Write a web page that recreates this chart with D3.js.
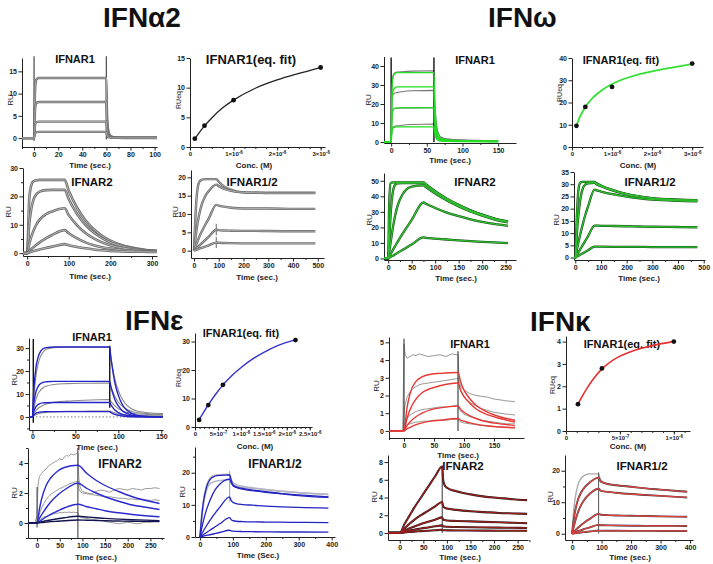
<!DOCTYPE html>
<html><head><meta charset="utf-8">
<script src="https://cdn.jsdelivr.net/npm/d3@7"></script>
<style>
body{margin:0;background:#fff;}
svg{display:block;font-family:"Liberation Sans",Arial,sans-serif;}
.ax .domain,.ax line{stroke:#222;stroke-width:1;}
.ax text{font-size:7px;font-weight:bold;fill:#222;font-family:"Liberation Sans",Arial,sans-serif;}
</style></head><body><script>
// ================= DATA =================
// ---- IFNα2 ----
const a2R1Time=[-10,0,0.5,1,2,4,60,60.5,61,62,64,68,75,102];
const a2R1Curves=[
 [0,0,7,11.5,13.2,13.5,13.5,6,3,1.2,0.4,0.15,0.1,0.1],
 [0,0,4.2,6.9,7.9,8.1,8.1,3.6,1.8,0.7,0.25,0.1,0.08,0.08],
 [0,0,1.9,3.1,3.6,3.7,3.7,1.7,0.8,0.35,0.15,0.08,0.05,0.05],
 [0,0,0.7,1.2,1.35,1.4,1.4,0.7,0.35,0.15,0.07,0.05,0.03,0.03]];
const a2R1Spikes=[[0,-0.6,18.4],[60,-0.3,18.4]];
const a2EqConc=[1.11e-7,3.33e-7,1e-6,3e-6];
const a2EqRU=[1.4,3.6,7.9,13.4];
const a2FitConc=[1.11e-7,2e-7,3.33e-7,5e-7,7.5e-7,1e-6,1.5e-6,2e-6,2.5e-6,3e-6];
const a2FitRU=[1.35,2.3,3.55,4.9,6.6,7.9,9.9,11.3,12.4,13.4];
const a2R2Time=[-10,0,5,10,15,20,30,45,60,90,100,120,140,160,180,200,230,260,290,312];
const a2R2Curves=[
 [0,0,19,24,25.3,25.6,25.8,25.8,25.8,25.8,22.0,16.0,11.6,8.4,6.1,4.4,2.7,1.7,1.05,0.8],
 [0,0,10.1,15.6,18.8,20.3,21.7,22.2,22.3,22.3,19.0,13.8,10.0,7.3,5.3,3.8,2.4,1.5,0.95,0.75],
 [0,0,3.2,5.8,7.8,9.5,11.8,13.7,14.7,15.8,13.4,9.8,7.1,5.2,3.8,2.8,1.8,1.2,0.8,0.65],
 [0,0,0.8,1.5,2.1,2.7,3.8,5.2,6.4,8.1,7.0,5.2,3.8,2.8,2.1,1.6,1.1,0.8,0.6,0.5],
 [0,0,0.25,0.5,0.7,0.9,1.3,1.8,2.3,3.2,2.8,2.2,1.7,1.3,1.0,0.8,0.6,0.5,0.45,0.4]];
const a2R12Time=[0,10,20,30,45,60,90,100,120,150,200,250,300,400,490];
const a2R12Curves=[
 [0,14,18.5,19.3,19.5,19.5,19.5,18.8,17.6,16.6,15.9,15.8,15.8,15.8,15.8],
 [0,5.5,9.5,12.3,14.8,16.3,18.0,17.6,16.9,16.3,15.9,15.8,15.7,15.7,15.7],
 [0,1.8,3.5,5.0,7.0,8.8,12.5,12.3,12.0,11.7,11.5,11.5,11.5,11.4,11.4],
 [0,0.65,1.3,1.95,2.9,3.8,5.7,5.6,5.5,5.45,5.4,5.4,5.35,5.3,5.3],
 [0,0.25,0.5,0.75,1.1,1.45,2.2,2.15,2.1,2.05,2.0,2.0,2.0,2.0,2.0]];
const a2R12Spikes=[[90,4.2,7.3],[90,0.7,3.7]];
// ---- IFNω ----
const wR1Time=[-10,0,1,2,4,8,15,30,60,61,62,64,67,70,80,100,130,150];
const wR1Fit=[
 [0,0,25,32,35.5,36.5,36.5,36.5,36.5,22,14,6.5,3,1.8,1.1,0.7,0.5,0.4],
 [0,0,20,25.5,28,29,29,29,29,17,11,5,2.4,1.5,0.9,0.6,0.4,0.35],
 [0,0,12,16,17.5,18,18,18,18,11,7,3.2,1.6,1.0,0.6,0.4,0.3,0.25],
 [0,0,5,7,7.8,8,8,8,8,5,3.2,1.5,0.8,0.5,0.35,0.25,0.2,0.15]];
const wR1Data=[
 [0,0,28,34,36,36.8,37,37.3,37.5,24,16,8,4,2.5,1.6,1.1,0.8,0.6],
 [0,0,21,24.5,25.5,26,26.5,27,27.2,17,11,5.5,3,2,1.4,1,0.7,0.6],
 [0,0,13,16.5,17.5,17.8,18,18,18.2,11,7,3.5,2,1.4,1,0.7,0.5,0.4],
 [0,0,6,7.5,8.2,8.5,8.8,9.2,9.5,6,4,2,1.2,0.9,0.6,0.45,0.35,0.3]];
const wR1Spikes=[[0,0,44.5],[60,0,44.5]];
const wEqConc=[1.11e-7,3.33e-7,1e-6,3e-6];
const wEqRU=[9.5,18,27,37.5];
const wFitConc=[1.11e-7,2e-7,3.33e-7,5e-7,7.5e-7,1e-6,1.5e-6,2e-6,2.5e-6,3e-6];
const wFitRU=[9.7,13.7,18.0,21.8,25.6,28.3,31.8,34.0,35.7,37.2];
const wR2Time=[-9,0,2,5,10,15,20,30,40,50,75,80,100,125,150,175,200,225,255];
const wR2Curves=[
 [0,0,35,48.5,49,49,49,49,49,49,49,47.8,43.3,38.5,34.5,31.0,28.2,25.8,23.8],
 [0,0,10,28,43,47.5,48.3,48.5,48.5,48.5,48.5,47.3,42.8,38.1,34.2,30.8,28.0,25.6,23.5],
 [0,0,4,10,20,28,34,41,44.8,46.3,47,46,41.8,37.3,33.5,30.2,27.5,25.2,23.2],
 [0,0,1,2.7,5.5,8.1,10.7,15.6,20.3,24.8,36,35.2,32.5,29.5,27.2,25.2,23.5,22.2,21],
 [0,0,0.4,0.9,1.8,2.7,3.6,5.4,7.2,9.0,13.5,13.3,12.8,12.2,11.6,11.1,10.7,10.3,9.9]];
const wR12Time=[-5,0,5,10,15,20,30,40,50,75,80,100,150,200,250,300,400,475];
const wR12Curves=[
 [0,0,14,25,29.5,30.7,31,31,31,31,30.6,29.5,27.5,26.0,25.0,24.3,23.7,23.5],
 [0,0,8,15,20,24,28.5,30,30.4,30.6,30.2,29.2,27.3,25.9,24.9,24.2,23.6,23.4],
 [0,0,2.6,5.1,7.5,9.8,14,17.8,21,27.8,27.6,27.0,25.8,24.9,24.2,23.7,23.2,23.0],
 [0,0,0.9,1.8,2.6,3.5,5.3,7,8.8,13.1,13.1,13.0,12.9,12.8,12.7,12.6,12.5,12.4],
 [0,0,0.3,0.6,0.9,1.2,1.8,2.4,3.0,4.5,4.5,4.45,4.4,4.4,4.35,4.3,4.3,4.3]];
// ---- IFNε ----
const eR1Time=[-4,0,1,2,4,6,8,12,16,25,40,60,90,91,93,96,100,105,110,120,135,152];
const eR1Fit=[
 [0,0,7.9,13.7,21.3,25.2,27.5,29.6,30.2,30.5,30.5,30.5,30.5,27,21.5,14.8,9.4,5.2,2.9,0.9,0.2,0.1],
 [0,0,4,7,10.8,12.8,14,15,15.3,15.5,15.5,15.5,15.5,13.7,10.9,7.5,4.8,2.6,1.5,0.45,0.1,0.05],
 [0,0,1.6,2.8,4.4,5.2,5.7,6.1,6.2,6.3,6.3,6.3,6.3,5.6,4.4,3.0,1.9,1.1,0.6,0.2,0.05,0],
 [0,0,0.6,1,1.6,1.9,2.1,2.2,2.3,2.3,2.3,2.3,2.3,2.0,1.6,1.1,0.7,0.4,0.2,0.07,0,0]];
const eR1Data=[
 [0,0,5,10,17.5,22,25,28,29.5,30.2,30.5,30.5,30.4,27,22,16.5,11.5,7.5,5,2.8,1.8,1.5],
 [0,0,2,4,7.5,9.7,11,12.6,13.4,14.1,14.5,14.7,14.8,13.5,11.5,9,6.5,4.5,3.2,2.0,1.4,1.2],
 [0,0,0.8,1.5,2.7,3.5,4.1,5,5.6,6.4,6.9,7.3,7.6,7,6,4.8,3.6,2.6,2.0,1.4,1.1,1.0],
 [0,0,0.3,0.6,1.0,1.3,1.5,1.8,2.0,2.2,2.4,2.5,2.6,2.4,2.1,1.7,1.3,1.0,0.8,0.6,0.5,0.45]];
const eR1Spikes=[[1,-2.5,34],[90,4,31]];
const eEqConc=[0.09e-6,0.29e-6,0.61e-6,2.19e-6];
const eEqRU=[2.5,7.7,14.8,30.5];
const eFitConc=[0.09e-6,0.2e-6,0.29e-6,0.45e-6,0.61e-6,0.8e-6,1.0e-6,1.25e-6,1.5e-6,1.8e-6,2.19e-6];
const eFitRU=[2.6,5.5,7.8,11.5,14.8,18.0,20.8,23.8,26.2,28.6,30.6];
const eR2Time=[-20,0,5,10,20,30,45,60,90,110,130,150,180,210,240,270];
const eR2Fit=[
 [0,0,0.9,1.6,2.5,3.0,3.45,3.7,3.85,3.3,2.85,2.5,2.1,1.75,1.5,1.3],
 [0,0,0.3,0.55,1.0,1.4,1.85,2.2,2.65,2.3,2.0,1.75,1.45,1.2,1.05,0.9],
 [0,0,0.1,0.2,0.4,0.58,0.8,1.0,1.25,1.08,0.95,0.82,0.68,0.57,0.48,0.42],
 [0,0,0.04,0.08,0.15,0.2,0.28,0.35,0.45,0.4,0.35,0.31,0.26,0.22,0.19,0.16],
 [0,0,0.02,0.03,0.06,0.09,0.12,0.15,0.2,0.18,0.17,0.15,0.13,0.12,0.11,0.1]];
const eR2DataTime=[-20,-5,0,2,5,10,15,20,25,30,35,40,45,50,55,60,65,70,75,80,85,90,92,95,100,110,120,130,140,150,160,170,180,190,200,210,220,230,240,250,260,270];
const eR2Data=[
 [0,0,0.5,2.5,3.1,3.3,3.5,3.6,3.8,3.9,4.0,4.1,4.15,4.3,4.2,4.4,4.5,4.45,4.6,4.55,4.6,4.7,3.0,2.4,2.1,2.0,1.95,2.1,2.2,2.15,2.05,2.2,2.3,2.25,2.2,2.3,2.25,2.2,2.3,2.3,2.35,2.3],
 [0,0,0.1,0.3,0.6,1.0,1.3,1.55,1.75,1.9,2.0,2.1,2.2,2.3,2.35,2.45,2.5,2.6,2.65,2.7,2.75,2.8,2.3,2.1,2.0,1.95,1.9,1.85,1.8,1.75,1.75,1.7,1.65,1.65,1.6,1.6,1.55,1.6,1.55,1.5,1.55,1.5],
 [0,0,0,0.1,0.2,0.3,0.4,0.45,0.5,0.55,0.6,0.62,0.65,0.7,0.68,0.72,0.7,0.73,0.7,0.72,0.7,0.7,0.5,0.4,0.35,0.3,0.25,0.2,0.15,0.1,0.05,0.0,-0.05,0.0,0.05,0.0,-0.05,0.0,0.05,0.05,0.1,0.1]];
const eR2Spikes=[[90,-1,5],[0,-0.3,2.4]];
const eR12Time=[0,5,10,20,30,45,60,90,95,100,110,130,160,200,250,300,390];
const eR12Fit=[
 [0,6,10.5,15.5,17.8,18.9,19.2,19.3,17.5,16.3,15.6,15.1,14.6,14.1,13.5,13.1,12.5],
 [0,2.5,4.8,8.5,11.3,14.5,16.4,18.0,16.9,16.0,15.4,14.9,14.4,13.9,13.4,12.9,12.3],
 [0,0.9,1.8,3.5,5.1,7.3,9.2,12.5,11.3,10.8,10.4,10.1,9.9,9.6,9.4,9.2,9.0],
 [0,0.35,0.7,1.4,2.1,3.1,4.1,6.0,5.4,5.1,4.9,4.8,4.7,4.65,4.6,4.55,4.5],
 [0,0.12,0.24,0.48,0.7,1.05,1.4,2.1,1.9,1.8,1.75,1.7,1.65,1.6,1.55,1.55,1.5]];
const eR12Data=[
 [0,6.5,11,16,18.3,19.2,19.4,19.5,18,17,16.3,15.8,15.3,14.8,14.2,13.8,13.2],
 [0,5,9.5,14.5,16.5,17.3,17.6,17.8,16.8,16.2,15.8,15.5,15.1,14.7,14.2,13.8,13.2]];
const eR12Spikes=[[90,11,20.5]];
// ---- IFNκ ----
const kR1Time=[-25,0,5,10,20,30,45,60,90,95,100,110,120,140,160,185];
const kR1Fit=[
 [0,0,1.3,2.1,2.8,3.05,3.2,3.25,3.3,2.7,2.3,1.8,1.45,1.05,0.8,0.6],
 [0,0,0.7,1.2,1.8,2.15,2.4,2.55,2.7,2.25,1.95,1.55,1.25,0.9,0.7,0.5],
 [0,0,0.3,0.5,0.8,1.0,1.2,1.3,1.4,1.2,1.05,0.85,0.7,0.5,0.4,0.3],
 [0,0,0.12,0.2,0.35,0.45,0.55,0.6,0.7,0.6,0.55,0.45,0.38,0.28,0.22,0.18]];
const kR1DataTime=[-25,-10,-2,0,2,5,10,15,20,25,30,40,50,60,70,80,88,90,92,95,100,110,120,130,140,150,160,170,185];
const kR1Data=[
 [0,0,0,4.9,4.3,4.1,4.2,4.3,4.25,4.35,4.3,4.2,4.25,4.3,4.2,4.35,4.3,4.3,2.8,2.5,2.3,2.1,2.0,1.95,1.9,1.8,1.75,1.7,1.65],
 [0,0,0,1.0,1.5,1.9,2.2,2.4,2.5,2.6,2.65,2.7,2.75,2.8,2.85,2.9,2.95,3.0,2.5,2.2,1.9,1.6,1.4,1.25,1.15,1.05,1.0,0.95,0.9],
 [0,0,0,0.3,0.5,0.7,0.9,1.0,1.1,1.15,1.2,1.25,1.3,1.35,1.35,1.4,1.45,1.45,1.2,1.1,0.95,0.8,0.7,0.6,0.55,0.5,0.45,0.4,0.4],
 [0,0,0,0.1,0.2,0.3,0.4,0.45,0.5,0.5,0.55,0.55,0.6,0.6,0.6,0.65,0.65,0.65,0.55,0.5,0.45,0.4,0.35,0.3,0.28,0.25,0.22,0.2,0.2]];
const kR1Spikes=[[0,0,5.2],[90,0,4.5]];
const kEqConc=[1.11e-7,3.33e-7,1e-6];
const kEqRU=[1.2,2.8,4.0];
const kFitConc=[1.11e-7,1.5e-7,2e-7,2.5e-7,3.33e-7,4e-7,5e-7,6e-7,7e-7,8e-7,9e-7,1e-6];
const kFitRU=[1.2,1.55,1.95,2.3,2.78,3.05,3.35,3.55,3.7,3.82,3.92,4.0];
const kR2Time=[-25,0,10,20,30,45,60,75,90,92,95,100,120,150,180,210,240,270];
const kR2Curves=[
 [0,0,1.0,1.9,2.8,4.0,5.2,6.4,7.5,6.0,5.4,5.1,4.7,4.35,4.1,3.95,3.8,3.7],
 [0,0,0.5,1.0,1.45,2.0,2.5,3.0,3.5,3.0,2.85,2.75,2.6,2.45,2.35,2.25,2.2,2.15],
 [0,0,0.25,0.5,0.7,1.0,1.25,1.5,1.75,1.5,1.45,1.4,1.35,1.3,1.25,1.2,1.15,1.1],
 [0,0,0.12,0.25,0.35,0.5,0.62,0.75,0.85,0.75,0.72,0.7,0.67,0.64,0.62,0.6,0.58,0.56],
 [0,0,0.05,0.1,0.15,0.2,0.25,0.3,0.35,0.3,0.3,0.29,0.28,0.27,0.26,0.25,0.25,0.24]];
const kR2Spikes=[[90,0,7.6]];
const kR12Time=[0,5,10,20,30,45,60,90,95,100,120,150,200,250,300,390];
const kR12Fit=[
 [0,4,7,10.8,13.0,15.0,16.3,17.8,16.8,16.4,15.8,15.4,14.9,14.4,14.0,13.3],
 [0,2,3.8,6.8,9.0,11.2,12.7,14.3,13.8,13.6,13.3,13.0,12.6,12.3,12.0,11.5],
 [0,0.5,1.0,1.9,2.7,3.8,4.7,6.3,6.1,6.0,5.9,5.8,5.7,5.6,5.5,5.4],
 [0,0.2,0.4,0.8,1.1,1.6,2.0,2.8,2.7,2.7,2.65,2.6,2.55,2.5,2.5,2.45],
 [0,0.07,0.14,0.28,0.4,0.55,0.7,1.0,0.95,0.95,0.93,0.92,0.9,0.9,0.88,0.87]];
const kR12Data=[[0,7,11,15.5,17.5,18.7,19.0,19.0,17.5,16.8,15.9,15.4,14.9,14.4,14.0,13.6]];
const kR12Spikes=[[90,0,19.5]];
// tick labels for concentration axes: [mantissa, exponent]
const concTicks3=[["0",""],["1×10","-6"],["2×10","-6"],["3×10","-6"]];
const concTicksE=[["0",""],["5×10","-7"],["1×10","-6"],["1.5×10","-6"],["2×10","-6"],["2.5×10","-6"]];
const concTicksK=[["0",""],["5×10","-7"],["1×10","-6"]];
const bigTitles=["IFNα2","IFNω","IFNε","IFNκ"];

// ================= DRAWING =================
const svg=d3.select("body").append("svg").attr("width",713).attr("height",564);
const rng=(a,b,s)=>d3.range(a,b+1e-9,s);

function panel(p){
  const x=d3.scaleLinear().domain(p.xd).range([p.x0,p.x1]);
  const y=d3.scaleLinear().domain(p.yd).range([p.y1,p.y0]);
  const g=svg.append("g");
  if(p.xm){const m=g.append("g").attr("class","ax").attr("transform",`translate(0,${p.y1})`)
    .call(d3.axisBottom(x).tickValues(p.xm).tickSize(2).tickFormat(""));m.select(".domain").remove();}
  if(p.ym){const m=g.append("g").attr("class","ax").attr("transform",`translate(${p.x0},0)`)
    .call(d3.axisLeft(y).tickValues(p.ym).tickSize(2).tickFormat(""));m.select(".domain").remove();}
  const ax=g.append("g").attr("class","ax").attr("transform",`translate(0,${p.y1})`)
    .call(d3.axisBottom(x).tickValues(p.xt).tickSize(3.5).tickSizeOuter(0).tickPadding(p.xp!==undefined?p.xp:1.5).tickFormat(d=>d));
  g.append("g").attr("class","ax").attr("transform",`translate(${p.x0},0)`)
    .call(d3.axisLeft(y).tickValues(p.yt).tickSize(3.5).tickSizeOuter(0).tickPadding(1.5).tickFormat(d=>d));
  if(p.sci){ax.selectAll(".tick text").each(function(d,i){
    const lab=p.sci[i];const t=d3.select(this).text(null).style("font-size","6px");
    t.append("tspan").text(lab[0]);
    if(lab[1])t.append("tspan").attr("dy",-2.5).style("font-size","4.5px").text(lab[1]);});}
  g.append("text").attr("x",p.tx).attr("y",p.ty).attr("text-anchor","middle")
    .attr("font-weight","bold").attr("font-size",p.ts||11).attr("fill","#111").text(p.title);
  g.append("text").attr("x",p.lx).attr("y",p.ly).attr("text-anchor","middle")
    .attr("font-weight","bold").attr("font-size",8).attr("fill","#222").text(p.xlab);
  g.append("text").attr("transform",`translate(${p.rx},${p.ry}) rotate(-90)`).attr("text-anchor","middle")
    .attr("dy","0.35em").attr("font-size",p.ylab==="RUeq"?7:8).attr("fill","#222").text(p.ylab);
  return {x,y,g};
}
function draw(P,times,vals,stroke,w,curve){
  const line=d3.line().x(d=>P.x(d[0])).y(d=>P.y(d[1])).curve(curve||d3.curveMonotoneX);
  P.g.append("path").datum(times.map((t,i)=>[t,vals[i]])).attr("d",line)
    .attr("fill","none").attr("stroke",stroke).attr("stroke-width",w).attr("stroke-linejoin","round");
}
function spikes(P,list,stroke,w){
  P.g.selectAll(null).data(list).join("line")
    .attr("x1",d=>P.x(d[0])).attr("x2",d=>P.x(d[0])).attr("y1",d=>P.y(d[1])).attr("y2",d=>P.y(d[2]))
    .attr("stroke",stroke).attr("stroke-width",w);
}
function points(P,cx,cy){
  P.g.selectAll(null).data(cx.map((c,i)=>[c,cy[i]])).join("circle")
    .attr("cx",d=>P.x(d[0])).attr("cy",d=>P.y(d[1])).attr("r",2.4).attr("fill","#111");
}

// big titles
svg.selectAll(null).data([[103,27],[488,27],[125,330],[530,331]]).join("text")
  .attr("x",d=>d[0]).attr("y",d=>d[1]).attr("font-size",28).attr("font-weight","bold").attr("fill","#111")
  .text((d,i)=>bigTitles[i]);

// ---------- IFNα2 ----------
let P=panel({x0:22,x1:157,y0:58,y1:147,xd:[-10,102],yd:[-2,18],xt:rng(0,100,20),xm:rng(-10,90,20),yt:[0,5,10,15],
  title:"IFNAR1",tx:75,ty:63,xlab:"Time (sec.)",lx:90,ly:168,ylab:"RU",rx:10,ry:100});
spikes(P,a2R1Spikes,"#555",1.3);
a2R1Curves.forEach(c=>{draw(P,a2R1Time,c,"#6a6a6a",2.4);draw(P,a2R1Time,c,"#dcdcdc",0.6);});

P=panel({x0:190,x1:325,y0:58,y1:147,xd:[0,3.1e-6],yd:[0,15],xt:[0,1e-6,2e-6,3e-6],xm:rng(0,3e-6,2.5e-7),yt:[0,5,10,15],
  sci:concTicks3,title:"IFNAR1(eq. fit)",ts:13,tx:251,ty:64,xlab:"Conc. (M)",lx:254,ly:168,ylab:"RUeq",rx:179,ry:100});
draw(P,a2FitConc,a2FitRU,"#222",1.3);
points(P,a2EqConc,a2EqRU);

P=panel({x0:23,x1:157,y0:168,y1:256,xd:[-10,312],yd:[-1,30],xt:[0,100,200,300],xm:[50,150,250],yt:[0,10,20,30],ym:[5,15,25],
  title:"IFNAR2",ts:11.5,tx:92,ty:186,xlab:"Time (sec.)",lx:90,ly:279,ylab:"RU",rx:8,ry:212});
a2R2Curves.forEach(c=>{draw(P,a2R2Time,c,"#6a6a6a",2.6);draw(P,a2R2Time,c,"#d8d8d8",0.7);});

P=panel({x0:191,x1:324,y0:170,y1:258,xd:[-12,525],yd:[-2,22],xt:rng(0,500,100),xm:rng(50,450,100),yt:[0,5,10,15,20],
  title:"IFNAR1/2",ts:11.5,tx:252,ty:186,xlab:"Time (sec.)",lx:257,ly:280,ylab:"RU",rx:175,ry:212});
spikes(P,a2R12Spikes,"#666",1);
a2R12Curves.forEach(c=>{draw(P,a2R12Time,c,"#6a6a6a",2.4);draw(P,a2R12Time,c,"#d8d8d8",0.6);});

// ---------- IFNω ----------
P=panel({x0:384,x1:516,y0:56.5,y1:143,xd:[-10,175],yd:[-0.5,45],xt:[0,50,100,150],xm:[25,75,125],yt:[0,10,20,30,40],
  title:"IFNAR1",tx:475,ty:64,xlab:"Time (sec.)",lx:450,ly:163,ylab:"RU",rx:368,ry:100});
wR1Data.forEach(c=>draw(P,wR1Time,c,"#777",1.1));
spikes(P,wR1Spikes,"#111",1.4);
wR1Fit.forEach(c=>draw(P,wR1Time,c,"#22dd22",1.4));

P=panel({x0:572,x1:703,y0:58,y1:147,xd:[0,3.27e-6],yd:[0,40],xt:[0,1e-6,2e-6,3e-6],xm:rng(0,3.2e-6,2.5e-7),yt:[0,10,20,30,40],
  sci:concTicks3,title:"IFNAR1(eq. fit)",tx:621,ty:64,xlab:"Conc. (M)",lx:638,ly:168,ylab:"RUeq",rx:560,ry:93});
draw(P,wFitConc,wFitRU,"#33e033",1.8);
points(P,wEqConc,wEqRU);

P=panel({x0:384,x1:516,y0:173,y1:260,xd:[-9,272],yd:[-1,55],xt:[0,50,100,150,200,250],xm:rng(25,225,50),yt:[0,10,20,30,40,50],
  title:"IFNAR2",ts:11.5,tx:475,ty:186,xlab:"Time (sec.)",lx:456,ly:281,ylab:"RU",rx:369,ry:220});
wR2Curves.forEach(c=>draw(P,wR2Time,c,"#174d17",2.3));
wR2Curves.forEach(c=>draw(P,wR2Time,c,"#2fbf2f",1.3));

P=panel({x0:574,x1:705,y0:172,y1:260,xd:[-5,505],yd:[-1,35],xt:rng(0,500,100),xm:rng(50,450,100),yt:rng(0,35,5),
  title:"IFNAR1/2",ts:11.5,tx:650,ty:186,xlab:"Time (sec.)",lx:639,ly:281,ylab:"RU",rx:556,ry:220});
wR12Curves.forEach(c=>draw(P,wR12Time,c,"#174d17",2.3));
wR12Curves.forEach(c=>draw(P,wR12Time,c,"#2fbf2f",1.3));

// ---------- IFNε ----------
P=panel({x0:29,x1:163,y0:338,y1:430,xd:[-4,152],yd:[-5.7,34.4],xt:[0,50,100,150],xm:[25,75,125],yt:[0,10,20,30],ym:[-5,5,15,25],xp:0.5,
  title:"IFNAR1",tx:92,ty:341,xlab:"Time (sec.)",lx:97,ly:450,ylab:"RU",rx:14,ry:380});
P.g.append("line").attr("x1",P.x(0)).attr("x2",P.x(150)).attr("y1",P.y(0)).attr("y2",P.y(0))
  .attr("stroke","#777").attr("stroke-width",1).attr("stroke-dasharray","1.5,2");
eR1Data.forEach(c=>draw(P,eR1Time,c,"#8a8a8a",1.1));
spikes(P,eR1Spikes,"#111",1.4);
eR1Fit.forEach(c=>draw(P,eR1Time,c,"#2424c8",1.4));

P=panel({x0:195,x1:312,y0:333,y1:427,xd:[0,2.55e-6],yd:[0,33],xt:rng(0,2.5e-6,5e-7),xm:rng(0,2.5e-6,1e-7),yt:[0,10,20,30],
  sci:concTicksE,title:"IFNAR1(eq. fit)",tx:241,ty:337,xlab:"Conc. (M)",lx:255,ly:449,ylab:"RUeq",rx:179,ry:378});
draw(P,eFitConc,eFitRU,"#3333cc",1.4);
points(P,eEqConc,eEqRU);

P=panel({x0:28,x1:164,y0:448,y1:538,xd:[-20,280],yd:[-1,5],xt:rng(0,250,50),xm:rng(25,275,50),yt:[0,2,4],ym:[-1,1,3,5],
  title:"IFNAR2",ts:12,tx:120,ty:468,xlab:"Time (sec.)",lx:96,ly:560,ylab:"RU",rx:14,ry:493});
eR2Data.forEach(c=>draw(P,eR2DataTime,c,"#9a9a9a",1,d3.curveLinear));
spikes(P,eR2Spikes,"#555",1.2);
eR2Fit.forEach((c,i)=>draw(P,eR2Time,c,i<3?"#2a2ad0":"#141450",1.4));

P=panel({x0:195,x1:335,y0:447,y1:537,xd:[-15,410],yd:[0,28],xt:rng(0,400,100),xm:rng(50,350,100),yt:[0,10,20],ym:[5,15,25],
  title:"IFNAR1/2",ts:12,tx:275,ty:468,xlab:"Time (Sec.)",lx:258,ly:558,ylab:"RU",rx:182,ry:492});
eR12Data.forEach(c=>draw(P,eR12Time,c,"#b4b4c4",1.5));
spikes(P,eR12Spikes,"#aaa",1.2);
eR12Fit.forEach(c=>draw(P,eR12Time,c,"#2424c0",1.3));

// ---------- IFNκ ----------
P=panel({x0:389,x1:524,y0:337,y1:438,xd:[-25,200],yd:[-0.4,5.3],xt:[0,50,100,150],xm:[-25,25,75,125,175],yt:[0,1,2,3,4,5],
  title:"IFNAR1",tx:470,ty:348,xlab:"Time (sec.)",lx:458,ly:458,ylab:"RU",rx:376,ry:386});
kR1Data.forEach(c=>draw(P,kR1DataTime,c,"#9a9a9a",1,d3.curveLinear));
spikes(P,kR1Spikes,"#333",1.1);
kR1Fit.forEach(c=>draw(P,kR1Time,c,"#e53935",1.4));

P=panel({x0:566,x1:690,y0:336,y1:431,xd:[0,1.15e-6],yd:[0,4.25],xt:[0,5e-7,1e-6],xm:rng(0,1.1e-6,1e-7),yt:[0,1,2,3,4],
  sci:concTicksK,title:"IFNAR1(eq. fit)",tx:622,ty:348,xlab:"Conc. (M)",lx:628,ly:449,ylab:"RUeq",rx:553,ry:385});
draw(P,kFitConc,kFitRU,"#e53030",1.6);
points(P,kEqConc,kEqRU);

P=panel({x0:388,x1:528,y0:455,y1:540,xd:[-25,272],yd:[-0.8,8.8],xt:rng(0,250,50),xm:rng(25,275,50),yt:[0,2,4,6,8],
  title:"IFNAR2",ts:11.5,tx:463,ty:470,xlab:"Time (sec.)",lx:460,ly:560,ylab:"RU",rx:374,ry:497});
spikes(P,kR2Spikes,"#333",1);
kR2Curves.forEach(c=>draw(P,kR2Time,c,"#222",2.1));
kR2Curves.forEach(c=>draw(P,kR2Time,c,"#a01c1c",1.2));

P=panel({x0:565,x1:693,y0:455,y1:540,xd:[-24,410],yd:[-2,25],xt:rng(0,400,100),xm:rng(50,350,100),yt:[0,10,20],ym:[5,15],
  title:"IFNAR1/2",ts:11.5,tx:642,ty:470,xlab:"Time (sec.)",lx:630,ly:560,ylab:"RU",rx:550,ry:497});
kR12Data.forEach(c=>draw(P,kR12Time,c,"#aaa",1.4));
spikes(P,kR12Spikes,"#555",1);
kR12Fit.forEach(c=>draw(P,kR12Time,c,"#444",1.9));
kR12Fit.forEach(c=>draw(P,kR12Time,c,"#e04040",1.2));
</script></body></html>
